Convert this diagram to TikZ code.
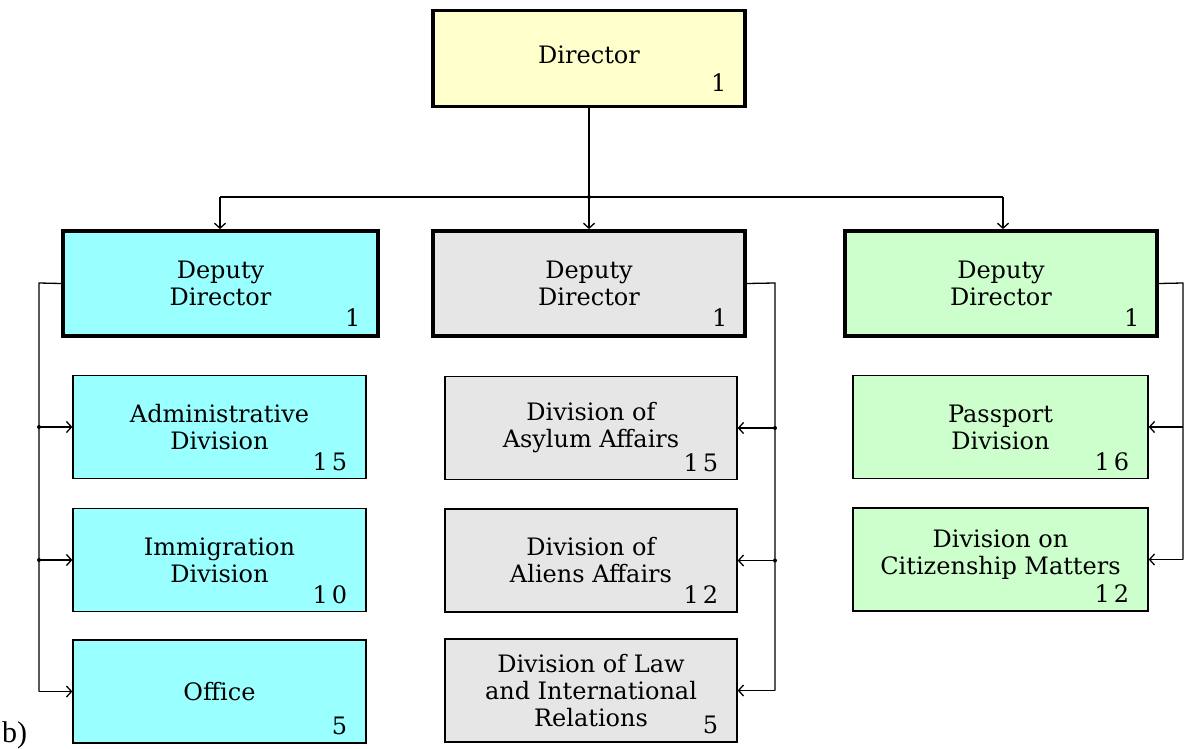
\documentclass[tikz,border=0pt]{standalone}
\usepackage{fontspec}
\setmainfont{DejaVu Serif}
\newfontfamily\labfont{Liberation Serif}
\usetikzlibrary{arrows.meta}
\definecolor{cyellow}{HTML}{FFFFCC}
\definecolor{ccyan}{HTML}{99FFFF}
\definecolor{cgrey}{HTML}{E6E6E6}
\definecolor{cgreen}{HTML}{CCFFCC}
\tikzset{
  txt/.style={font=\rmfamily\fontsize{24}{27}\selectfont, align=center},
  headbox/.style={draw, txt, line width=3.8pt, minimum width=312pt, minimum height=105pt},
  childbox/.style={draw, txt, line width=1.3pt, minimum height=103pt},
  num/.style={font=\rmfamily\fontsize{24}{27}\selectfont, anchor=base east},
  conn/.style={line width=1.3pt},
  arr/.style={conn, -{Straight Barb[length=5pt,width=11pt]}},
  jdot/.style={fill=black}
}
\begin{document}
\begin{tikzpicture}[x=1pt,y=-1pt]
\useasboundingbox (0,0) rectangle (1184,749);
% Director
\node[headbox, fill=cyellow, minimum height=96pt] (dir) at (589,58.5) {};
\node[txt] (tdir) at (589,55) {Director};
\node[num] (ndir) at ([shift={(-17,-17)}]dir.south east) {1};
% Deputies
\node[headbox, fill=ccyan, minimum width=315pt] (dl) at (220.5,283.5) {Deputy\\Director};
\node[headbox, fill=cgrey] (dm) at (589,283.5) {Deputy\\Director};
\node[headbox, fill=cgreen] (dr) at (1001,283.5) {Deputy\\Director};
\node[num] (ndl) at ([shift={(-16,-11)}]dl.south east) {1};
\node[num] (ndm) at ([shift={(-16,-11)}]dm.south east) {1};
\node[num] (ndr) at ([shift={(-16,-11)}]dr.south east) {1};
% left children
\node[childbox, fill=ccyan, minimum width=293pt] (adm) at (219.5,427) {Administrative\\Division};
\node[childbox, fill=ccyan, minimum width=293pt] (imm) at (219.5,560) {Immigration\\Division};
\node[childbox, fill=ccyan, minimum width=293pt] (off) at (219.5,691.5) {Office};
\node[num] (nadm) at ([shift={(-16,-9)}]adm.south east) {1\,5};
\node[num] (nimm) at ([shift={(-16,-9)}]imm.south east) {1\,0};
\node[num] (noff) at ([shift={(-16,-9)}]off.south east) {5};
% middle children
\node[childbox, fill=cgrey, minimum width=292pt] (asy) at (591,428) {Division of\\Asylum Affairs};
\node[childbox, fill=cgrey, minimum width=292pt] (ali) at (591,560.5) {Division of\\Aliens Affairs};
\node[childbox, fill=cgrey, minimum width=292pt] (law) at (591,690.5) {Division of Law\\and International\\Relations};
\node[num] (nasy) at ([shift={(-16,-9)}]asy.south east) {1\,5};
\node[num] (nali) at ([shift={(-16,-9)}]ali.south east) {1\,2};
\node[num] (nlaw) at ([shift={(-16,-9)}]law.south east) {5};
% right children
\node[childbox, fill=cgreen, minimum width=295pt] (pas) at (1000.5,427) {Passport\\Division};
\node[childbox, fill=cgreen, minimum width=295pt] (cit) at (1000.5,559.5) {};
\node[txt] (tcit) at (1000.5,555) {Division on\\Citizenship~Matters};
\node[num] (npas) at ([shift={(-16,-9)}]pas.south east) {1\,6};
\node[num] (ncit) at ([shift={(-16,-9)}]cit.south east) {1\,2};
% top bus
\coordinate (bj) at (589,197);
\coordinate (bl) at (220,197);
\coordinate (br) at (1003,197);
\draw[conn] (dir.south) -- (bj);
\draw[conn] (bl) -- (br);
\draw[arr] (bl) -- (bl |- dl.north);
\draw[arr] (bj) -- (dm.north);
\draw[arr] (br) -- (br |- dr.north);
\fill[jdot] (bj) circle (2pt);
% left bus
\coordinate (lt) at (39,283);
\coordinate (lb) at (39,691.5);
\draw[conn] (dl.west) -- (lt) -- (lb);
\draw[arr] (lt |- adm.west) -- (adm.west);
\draw[arr] (lt |- imm.west) -- (imm.west);
\draw[arr] (lb) -- (off.west);
\fill[jdot] (lt |- adm.west) circle (2pt);
\fill[jdot] (lt |- imm.west) circle (2pt);
% middle bus
\coordinate (mt) at (775,283);
\coordinate (mb) at (775,690.5);
\draw[conn] (dm.east) -- (mt) -- (mb);
\draw[arr] (mt |- asy.east) -- (asy.east);
\draw[arr] (mt |- ali.east) -- (ali.east);
\draw[arr] (mb) -- (law.east);
\fill[jdot] (mt |- asy.east) circle (2pt);
\fill[jdot] (mt |- ali.east) circle (2pt);
% right bus
\coordinate (rt) at (1183,283);
\coordinate (rb) at (1183,559.5);
\draw[conn] (dr.east) -- (rt) -- (rb);
\draw[arr] (rt |- pas.east) -- (pas.east);
\draw[arr] (rb) -- (cit.east);
% label
\node[font=\labfont\fontsize{30}{30}\selectfont, anchor=base west, inner sep=0pt] (lab) at (2,742) {b)};
\end{tikzpicture}
\end{document}
